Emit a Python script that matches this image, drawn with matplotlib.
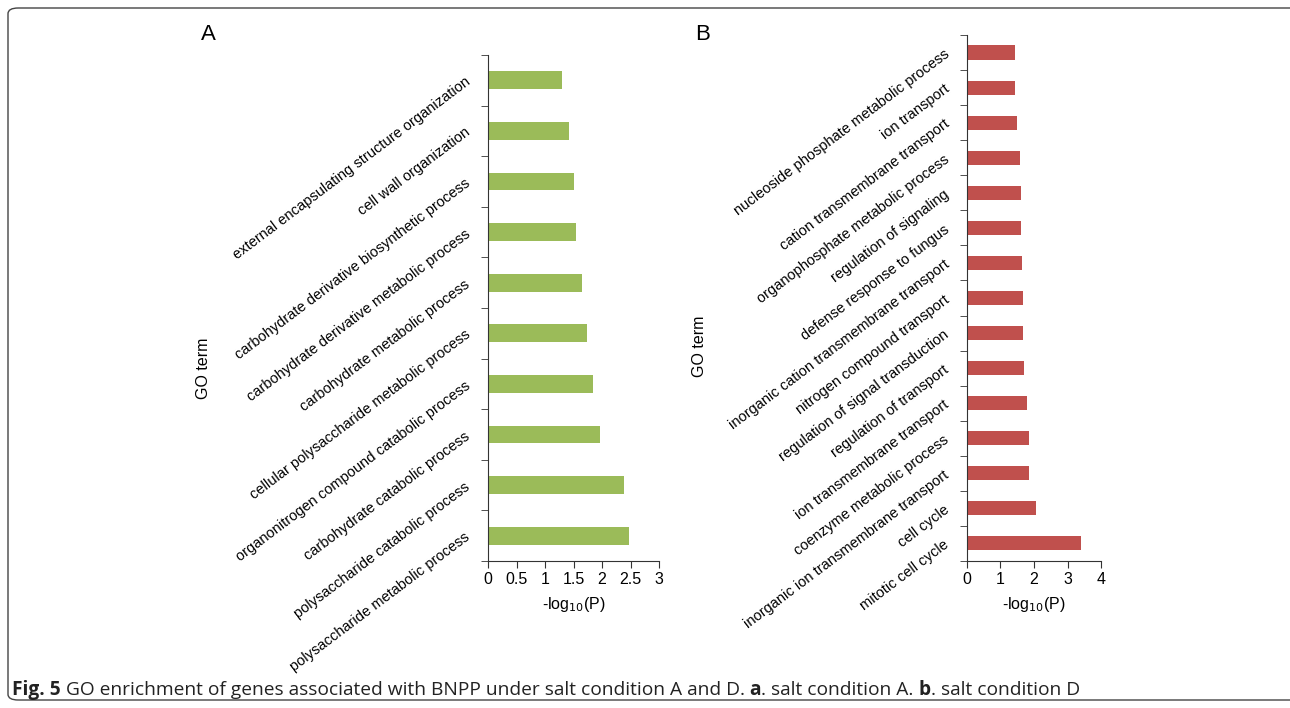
import matplotlib
matplotlib.use("Agg")
import matplotlib.pyplot as plt
from matplotlib.patches import FancyBboxPatch

plt.rcParams['font.family'] = ['Liberation Sans', 'DejaVu Sans']

# panel A: salt condition A (top to bottom)
terms_a = [
    "external encapsulating structure organization",
    "cell wall organization",
    "carbohydrate derivative biosynthetic process",
    "carbohydrate derivative metabolic process",
    "carbohydrate metabolic process",
    "cellular polysaccharide metabolic process",
    "organonitrogen compound catabolic process",
    "carbohydrate catabolic process",
    "polysaccharide catabolic process",
    "polysaccharide metabolic process",
]
vals_a = [1.30, 1.42, 1.51, 1.54, 1.65, 1.74, 1.85, 1.96, 2.38, 2.48]
xticks_a = [0, 0.5, 1, 1.5, 2, 2.5, 3]

# panel B: salt condition D (top to bottom)
terms_b = [
    "nucleoside phosphate metabolic process",
    "ion transport",
    "cation transmembrane transport",
    "organophosphate metabolic process",
    "regulation of signaling",
    "defense response to fungus",
    "inorganic cation transmembrane transport",
    "nitrogen compound transport",
    "regulation of signal transduction",
    "regulation of transport",
    "ion transmembrane transport",
    "coenzyme metabolic process",
    "inorganic ion transmembrane transport",
    "cell cycle",
    "mitotic cell cycle",
]
vals_b = [1.44, 1.44, 1.48, 1.59, 1.61, 1.61, 1.63, 1.66, 1.66, 1.70, 1.80, 1.86, 1.86, 2.06, 3.41]
xticks_b = [0, 1, 2, 3, 4]

fig = plt.figure(figsize=(12.9, 7.08), dpi=100)

def panel(rect, terms, vals, xticks, color, bar_h, letter, letter_pos, ylab_pos):
    ax = fig.add_axes(rect)
    n = len(terms)
    ax.barh(range(n), vals, height=bar_h, color=color)
    ax.set_ylim(n - 0.5, -0.5)
    ax.set_xlim(xticks[0], xticks[-1])
    ax.set_xticks(xticks)
    ax.set_xticklabels([f"{t:g}" for t in xticks], fontsize=11.5)
    ax.set_yticks(range(n))
    ax.set_yticklabels(terms, rotation=37, ha='right', va='center',
                       rotation_mode='anchor', fontsize=10.5)
    ax.tick_params(axis='y', length=0, pad=14)
    ax.set_yticks([i - 0.5 for i in range(n + 1)], minor=True)
    ax.tick_params(axis='y', which='minor', length=5, color='#333333')
    ax.tick_params(axis='x', length=5, color='#333333', pad=3)
    for s in ['top', 'right']:
        ax.spines[s].set_visible(False)
    for s in ['left', 'bottom']:
        ax.spines[s].set_color('#333333')
    ax.set_xlabel('-log$_{10}$(P)', fontsize=11.5, labelpad=6)
    fig.text(ylab_pos[0], ylab_pos[1], "GO term", rotation=90,
             ha='center', va='center', fontsize=11.5)
    fig.text(letter_pos[0], letter_pos[1], letter, fontsize=16, ha='center', va='center')
    return ax

panel([0.3783, 0.2076, 0.1326, 0.7147], terms_a, vals_a, xticks_a, '#9BBB59', 0.35,
      "A", (208 / 1290, 1 - 34 / 708), (203 / 1290, 1 - 368 / 708))
panel([0.7496, 0.2076, 0.1039, 0.7430], terms_b, vals_b, xticks_b, '#C0504D', 0.4,
      "B", (703 / 1290, 1 - 34 / 708), (700 / 1290, 1 - 346 / 708))

# frame around the figure
frame = FancyBboxPatch((8 / 1290, 8 / 708), 1.2, 1 - 16 / 708,
                       boxstyle="round,pad=0,rounding_size=0.008",
                       transform=fig.transFigure, fill=False,
                       edgecolor='#444444', linewidth=1.0)
fig.patches.append(frame)

# caption with bold pieces
caption = [("Fig. 5", 'bold'), (" GO enrichment of genes associated with BNPP under salt condition A and D. ", 'normal'),
           ("a", 'bold'), (". salt condition A. ", 'normal'), ("b", 'bold'), (". salt condition D", 'normal')]
renderer = fig.canvas.get_renderer()
x = 12 / 1290
for txt, w in caption:
    t = fig.text(x, 1 - 695 / 708, txt, fontsize=13.8, fontweight=w, ha='left', va='baseline',
                 family=['Open Sans', 'DejaVu Sans'], color='#222222')
    bb = t.get_window_extent(renderer)
    x += bb.width / 1290

fig.savefig("out.png", dpi=100)
